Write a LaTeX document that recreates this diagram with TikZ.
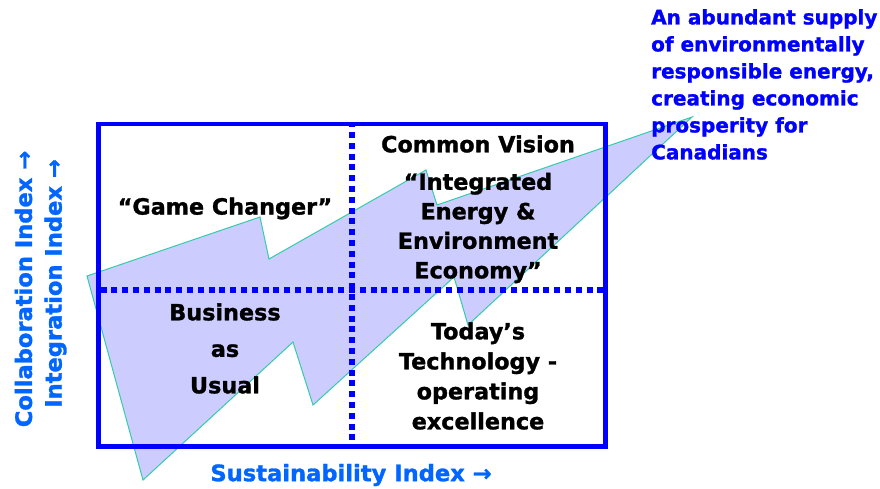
\documentclass[tikz,border=0pt]{standalone}
\usepackage{fontspec}
\setmainfont{DejaVu Sans}[BoldFeatures={FakeBold=1.3}]
\definecolor{qblue}{RGB}{0,0,255}
\definecolor{axblue}{RGB}{0,102,255}
\definecolor{lav}{RGB}{204,204,255}
\definecolor{tealline}{RGB}{51,204,170}
\begin{document}
\begin{tikzpicture}[x=1pt,y=-1pt,
  quad/.style={draw=qblue,line width=4.5pt},
  divider/.style={draw=qblue,line width=5.8pt,dash pattern=on 6pt off 4.8pt},
  lbl/.style={font=\fontsize{22.3}{29.5}\selectfont\bfseries,align=center,text=black,inner sep=0pt},
  axis/.style={font=\fontsize{22.6}{26}\selectfont\bfseries,text=axblue,inner sep=0pt},
  goal/.style={font=\fontsize{20}{27}\selectfont\bfseries,text=qblue,align=left,inner sep=0pt,anchor=north west},
  bigarrow/.style={fill=lav,draw=tealline,line width=1pt,line join=miter}]
\useasboundingbox (0,0) rectangle (880,488);
\fill[white] (0,0) rectangle (880,488);
\filldraw[bigarrow] (87,276) -- (260,217) -- (269,259) -- (426,170) -- (437,205) -- (692,117)
  -- (468,325) -- (454,277) -- (313,405) -- (293,342) -- (143,480) -- cycle;
\draw[divider,dash phase=2.8pt] (352,124) -- (352,447);
\draw[divider] (100.6,290) -- (603,290);
\draw[quad] (98.3,124) rectangle (605.7,446.7);
\node[lbl] (gc) at (225,208.5) {“Game Changer”};
\node[lbl] (cv) at (478,144) {Common Vision};
\node[lbl] (iee) at (478,228) {“Integrated\\Energy \&\\Environment\\Economy”};
\node[lbl,font=\fontsize{22.3}{36.5}\selectfont\bfseries] (bau) at (225,348.5) {Business\\as\\Usual};
\node[lbl,font=\fontsize{22.3}{30}\selectfont\bfseries] (tt) at (478,376) {Today’s\\Technology -\\operating\\excellence};
\node[goal] (goaltext) at (651,9) {An abundant supply\\of environmentally\\responsible energy,\\creating economic\\prosperity for\\Canadians};
\node[axis] (sx) at (351,475) {Sustainability Index →};
\node[axis,rotate=90] (cx) at (23.5,289) {Collaboration Index →};
\node[axis,rotate=90] (ix) at (55.5,283.5) {Integration Index →};
\end{tikzpicture}
\end{document}
